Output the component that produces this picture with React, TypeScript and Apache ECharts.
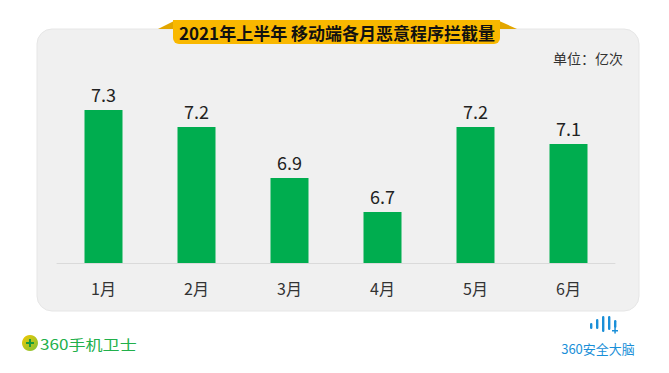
import React, { useEffect, useRef } from "react";
import * as echarts from "echarts";

const months = ["1月", "2月", "3月", "4月", "5月", "6月"];
const values = [7.3, 7.2, 6.9, 6.7, 7.2, 7.1];
const titleText = "2021年上半年 移动端各月恶意程序拦截量";
const unitText = "单位：亿次";
const leftLogoText = "360手机卫士";
const rightLogoText = "360安全大脑";

export default function App() {
  const ref = useRef<HTMLDivElement>(null);
  useEffect(() => {
    if (!ref.current) return;
    const chart = echarts.init(ref.current, undefined, { renderer: "svg" });
    const font = '"Noto Sans CJK SC", "Noto Sans", sans-serif';
    const waveBars = [
      { x: 590, y: 323, h: 6 },
      { x: 596, y: 319, h: 10 },
      { x: 602, y: 316, h: 16 },
      { x: 608, y: 316, h: 14 },
      { x: 614, y: 320, h: 8 },
    ];
    chart.setOption({
      animation: false,
      backgroundColor: "#ffffff",
      textStyle: { fontFamily: font },
      grid: { left: 57, right: 54, top: 59, bottom: 110 },
      xAxis: {
        type: "category",
        data: months,
        axisLine: { lineStyle: { color: "#dadada", width: 1 } },
        axisTick: { show: false },
        axisLabel: { color: "#333", fontSize: 16, margin: 17, fontFamily: font },
      },
      yAxis: {
        type: "value",
        min: 6.4,
        max: 7.6,
        show: false,
        splitLine: { show: false },
      },
      series: [
        {
          type: "bar",
          data: values,
          barWidth: 38,
          itemStyle: { color: "#00ad4f" },
          label: {
            show: true,
            position: "top",
            distance: 7,
            color: "#222",
            fontSize: 18,
            fontFamily: font,
          },
          z: 5,
        },
      ],
      graphic: [
        {
          type: "rect",
          z: -10,
          shape: { x: 37, y: 29, width: 602, height: 282, r: 15 },
          style: { fill: "#f0f0f0", stroke: "#e6e6e6", lineWidth: 1 },
        },
        {
          type: "polygon",
          z: 10,
          shape: { points: [[158, 29], [176, 20], [176, 29]] },
          style: { fill: "#e2a600" },
        },
        {
          type: "polygon",
          z: 10,
          shape: { points: [[497, 20], [517, 29], [497, 29]] },
          style: { fill: "#e2a600" },
        },
        {
          type: "rect",
          z: 11,
          shape: { x: 173, y: 20, width: 327, height: 24, r: [0, 0, 6, 6] },
          style: { fill: "#f9b800" },
        },
        {
          type: "text",
          z: 12,
          x: 337,
          y: 32,
          style: {
            text: titleText,
            fill: "#111",
            font: `bold 17px ${font}`,
            align: "center",
            verticalAlign: "middle",
          },
        },
        {
          type: "text",
          z: 12,
          x: 623,
          y: 58,
          style: {
            text: unitText,
            fill: "#333",
            font: `14px ${font}`,
            align: "right",
            verticalAlign: "middle",
          },
        },
        {
          type: "circle",
          z: 12,
          shape: { cx: 30, cy: 343, r: 8 },
          style: {
            fill: new echarts.graphic.LinearGradient(0, 0, 1, 1, [
              { offset: 0, color: "#f6c800" },
              { offset: 1, color: "#7cc23a" },
            ]),
          },
        },
        {
          type: "rect",
          z: 13,
          shape: { x: 26, y: 342, width: 8, height: 2 },
          style: { fill: "#1a9a3c" },
        },
        {
          type: "rect",
          z: 13,
          shape: { x: 29, y: 339, width: 2, height: 8 },
          style: { fill: "#1a9a3c" },
        },
        {
          type: "text",
          z: 12,
          x: 40,
          y: 344,
          scaleX: 1.22,
          style: {
            text: leftLogoText,
            fill: "#22b04b",
            font: `14px ${font}`,
            align: "left",
            verticalAlign: "middle",
          },
        },
        ...waveBars.map((b) => ({
          type: "rect",
          z: 12,
          shape: { x: b.x, y: b.y, width: 2.4, height: b.h, r: 1.2 },
          style: { fill: "#1a8fd8" },
        })),
        {
          type: "rect",
          z: 12,
          shape: { x: 612, y: 330, width: 6, height: 1.5 },
          style: { fill: "#1a8fd8" },
        },
        {
          type: "rect",
          z: 12,
          shape: { x: 614.3, y: 327.5, width: 1.5, height: 6 },
          style: { fill: "#1a8fd8" },
        },
        {
          type: "text",
          z: 12,
          x: 598,
          y: 348,
          style: {
            text: rightLogoText,
            fill: "#1a8fd8",
            font: `13px ${font}`,
            align: "center",
            verticalAlign: "middle",
          },
        },
      ],
    });
    return () => chart.dispose();
  }, []);
  return (
    <div
      ref={ref}
      style={{ position: "fixed", left: 0, top: 0, width: 669, height: 373 }}
    />
  );
}
